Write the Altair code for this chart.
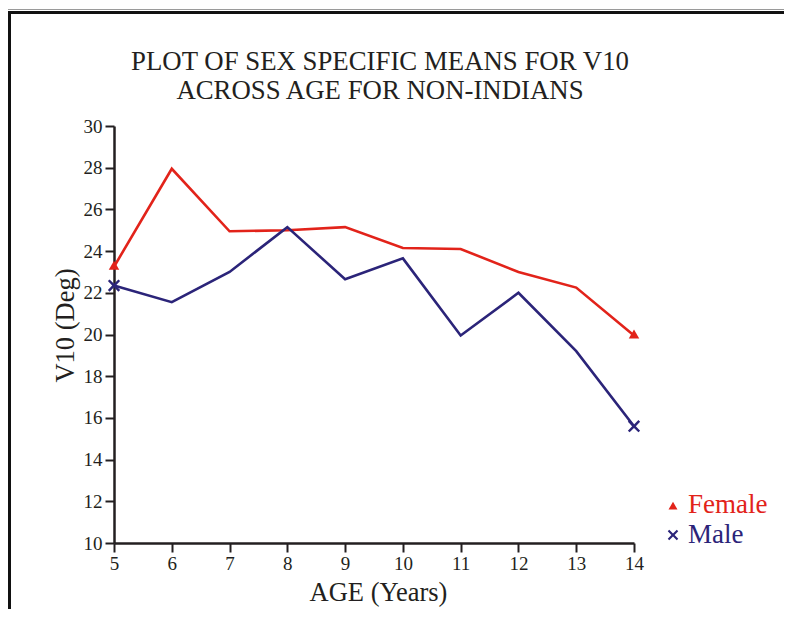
import altair as alt
import pandas as pd

ages = [5, 6, 7, 8, 9, 10, 11, 12, 13, 14]
female = [23.25, 27.95, 24.95, 25.0, 25.15, 24.15, 24.1, 23.0, 22.25, 19.95]
male = [22.35, 21.55, 23.0, 25.15, 22.65, 23.65, 19.95, 22.0, 19.2, 15.6]
sexes = ["Female", "Male"]
colors = ["#e2231a", "#2b2479"]
y_ticks = [10, 12, 14, 16, 18, 20, 22, 24, 26, 28, 30]
x_ticks = ages
title_lines = ["PLOT OF SEX SPECIFIC MEANS FOR V10", "ACROSS AGE FOR NON-INDIANS"]
x_title = "AGE (Years)"
y_title = "V10 (Deg)"

FONT = "Liberation Serif"
TXT = "#231f20"
XPATH = ("M-1,-0.72L-0.72,-1L0,-0.3L0.72,-1L1,-0.72L0.3,0L1,0.72L0.72,1"
         "L0,0.3L-0.72,1L-1,0.72L-0.3,0Z")

df = pd.DataFrame({
    "age": ages * 2,
    "v10": female + male,
    "sex": [sexes[0]] * len(ages) + [sexes[1]] * len(ages),
})
ends = df[df["age"].isin([ages[0], ages[-1]])]

axis_common = dict(
    domainColor=TXT, domainWidth=2.5, tickColor=TXT, tickWidth=2, tickSize=9,
    labelFont=FONT, labelFontSize=19, labelColor=TXT, labelFlush=False,
    labelOverlap=False, grid=False, titleFont=FONT, titleFontSize=26.5,
    titleFontWeight="normal", titleColor=TXT, format="d",
)

x_enc = alt.X(
    "age:Q",
    scale=alt.Scale(domain=[5, 14], nice=False, zero=False),
    axis=alt.Axis(values=x_ticks, title=x_title, labelPadding=2,
                  titleX=264, titleY=49, titleAlign="center",
                  titleBaseline="middle", **axis_common),
)
y_enc = alt.Y(
    "v10:Q",
    scale=alt.Scale(domain=[10, 30], nice=False, zero=False),
    axis=alt.Axis(values=y_ticks, title=y_title, labelPadding=3,
                  titleX=-49, titleY=199, titleAlign="center",
                  titleBaseline="middle", titleAngle=-90, **axis_common),
)
color_enc = alt.Color("sex:N", scale=alt.Scale(domain=sexes, range=colors),
                      legend=None)

lines = alt.Chart(df).mark_line(strokeWidth=2.6).encode(
    x=x_enc, y=y_enc, color=color_enc, detail="sex:N")

fem_pts = alt.Chart(ends[ends["sex"] == sexes[0]]).mark_point(
    shape="triangle", filled=True, size=110, opacity=1).encode(
    x="age:Q", y="v10:Q", color=color_enc)
male_pts = alt.Chart(ends[ends["sex"] == sexes[1]]).mark_point(
    shape=XPATH, filled=True, size=150, opacity=1).encode(
    x="age:Q", y="v10:Q", color=color_enc)

legend_layers = []
shapes = ["triangle", XPATH]
sizes = [80, 110]
sym_y = [381, 409]
txt_y = [387, 417]
for i, s in enumerate(sexes):
    ldf = pd.DataFrame({"sex": [s]})
    legend_layers.append(alt.Chart(ldf).mark_point(
        shape=shapes[i], filled=True, size=sizes[i], opacity=1).encode(
        x=alt.value(559), y=alt.value(sym_y[i]), color=color_enc))
    legend_layers.append(alt.Chart(ldf).mark_text(
        align="left", baseline="alphabetic", font=FONT, fontSize=27).encode(
        x=alt.value(574), y=alt.value(txt_y[i]), text="sex:N", color=color_enc))

title_layers = []
title_y = [-56, -27]
for i, t in enumerate(title_lines):
    tdf = pd.DataFrame({"t": [t]})
    title_layers.append(alt.Chart(tdf).mark_text(
        align="center", baseline="alphabetic", font=FONT, fontSize=26.8,
        color=TXT).encode(x=alt.value(266), y=alt.value(title_y[i]), text="t:N"))

fdf = pd.DataFrame({"k": [0]})
frame_gray = alt.Chart(fdf).mark_rule(color="#9a9a9a", strokeWidth=1).encode(
    x=alt.value(-106), x2=alt.value(690), y=alt.value(-116.5))
frame_top = alt.Chart(fdf).mark_rule(color="#111111", strokeWidth=3).encode(
    x=alt.value(-106), x2=alt.value(690), y=alt.value(-113.5))
frame_left = alt.Chart(fdf).mark_rule(color="#111111", strokeWidth=3).encode(
    x=alt.value(-104.5), y=alt.value(-115), y2=alt.value(495))

chart = alt.layer(
    frame_gray, frame_top, frame_left, lines, fem_pts, male_pts,
    *legend_layers, *title_layers
).properties(
    width=520, height=417,
    background="white",
    autosize=alt.AutoSizeParams(type="none"),
    padding={"left": 106, "top": 118, "right": 150, "bottom": 66},
).configure_view(strokeWidth=0)

chart.save("out.html", embed_options={"renderer": "svg", "actions": False})
